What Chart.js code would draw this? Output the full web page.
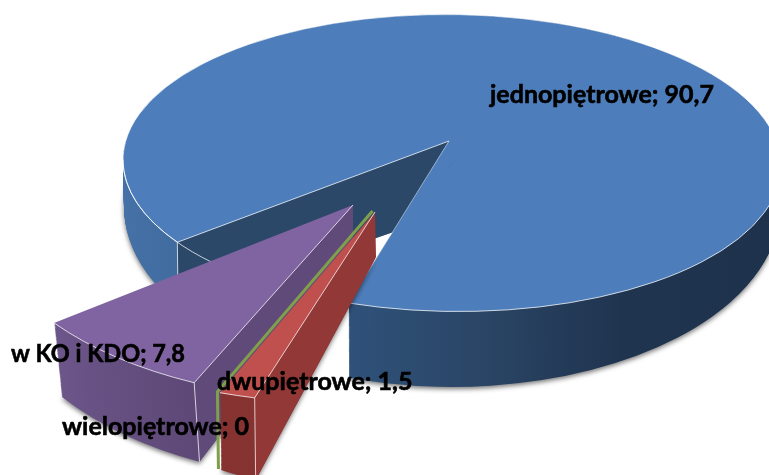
<!DOCTYPE html>
<html lang="pl">
<head>
<meta charset="utf-8">
<title>Wykres</title>
<script src="https://cdn.jsdelivr.net/npm/chart.js@4/dist/chart.umd.min.js"></script>
<style>
    html, body { margin: 0; padding: 0; background: #fff; overflow: hidden; }
    canvas { display: block; }
</style>
</head>
<body>
<canvas id="pieChart" width="769" height="475"></canvas>
<script>
const categories = ["jednopiętrowe", "dwupiętrowe", "wielopiętrowe", "w KO i KDO"];
const values = [90.7, 1.5, 0, 7.8];

const colors = ["#4d7ebb", "#c0504d", "#7f9f4a", "#8064a2"];
const labelSpots = [[490, 103], [217, 390], [62, 435], [11, 362]];
const labelWidths = [224, 196, 188, 174];
const labelFont = "bold 25px Lato";

// perspective of the 3D pie: each slice gets its own top and bottom frame
const frames = {
    0: {
        top: { x: 452, y: 163, xx: 329, xy: 0, yx: 3, yy: 148.5 },
        bottom: { x: 452, y: 207, xx: 328, xy: 0, yx: 0, yy: 180 },
        apexTop: [449, 141],
        apexBottom: [449, 213],
        steps: 76,
        gapWiden: 2.4,
        wallStops: [[0, "#4571a6"], [0.09, "#3f6b9f"], [0.35, "#2f5179"], [0.55, "#2a4565"], [0.76, "#1f344f"], [1, "#1e324c"]],
        faceColor: "#2b4869",
    },
    1: {
        top: { x: 375, y: 212, xx: 393, xy: 20, yx: -23, yy: 190 },
        bottom: { x: 376, y: 257, xx: 393, xy: 20, yx: 12, yy: 243 },
        steps: 60,
        wallStops: [[0, "#83312f"], [1, "#8b3735"]],
        faceColor: "#923836",
    },
    2: {
        top: { x: 372.5, y: 211, xx: 393, xy: 20, yx: -23, yy: 190 },
        bottom: { x: 373.5, y: 256, xx: 393, xy: 20, yx: 12, yy: 243 },
    },
    3: {
        top: { x: 353, y: 205, xx: 373, xy: 6, yx: -4, yy: 196 },
        bottom: { x: 353, y: 262, xx: 365, xy: 8, yx: -9, yy: 218 },
        steps: 70,
        wallStops: [[0, "#705992"], [0.1, "#6b5589"], [0.3, "#5c4674"], [1, "#5c4674"]],
        faceColor: "#5f4a7a",
    },
};

const EDGE = "rgba(255,255,255,0.75)";

function lerpFrame(a, b, t) {
    const out = {};
    Object.keys(a).forEach(function (key) {
        out[key] = a[key] + (b[key] - a[key]) * t;
    });
    return out;
}

function applyFrame(ctx, f, arc) {
    const r = arc.outerRadius;
    const a = f.xx / r, b = f.yx / r, c = f.xy / r, d = f.yy / r;
    ctx.transform(a, b, c, d, f.x - a * arc.x - c * arc.y, f.y - b * arc.x - d * arc.y);
}

function rimPoint(f, angle) {
    const ux = Math.cos(angle), uy = Math.sin(angle);
    return [f.x + f.xx * ux + f.xy * uy, f.y + f.yx * ux + f.yy * uy];
}

// screen point back into the arc's own pixel space
function toLocal(f, arc, pt) {
    const det = f.xx * f.yy - f.xy * f.yx;
    const dx = pt[0] - f.x, dy = pt[1] - f.y;
    const ux = (f.yy * dx - f.xy * dy) / det;
    const uy = (f.xx * dy - f.yx * dx) / det;
    return [arc.x + ux * arc.outerRadius, arc.y + uy * arc.outerRadius];
}

function clipGap(ctx, f, arc, apex, startA, endA) {
    const r = arc.outerRadius;
    const p = toLocal(f, arc, apex);
    const far = function (a, k) {
        const ex = arc.x + Math.cos(a) * r, ey = arc.y + Math.sin(a) * r;
        return [p[0] + (ex - p[0]) * k, p[1] + (ey - p[1]) * k];
    };
    const p1 = far(startA, 2.5), p2 = far(endA, 2.5);
    ctx.beginPath();
    ctx.rect(arc.x - r * 4, arc.y - r * 4, r * 8, r * 8);
    ctx.moveTo(p[0], p[1]);
    ctx.lineTo(p1[0], p1[1]);
    ctx.lineTo(p2[0], p2[1]);
    ctx.closePath();
    ctx.clip("evenodd");
}

function drawFilled(ctx, arc, fill) {
    const saved = arc.options;
    arc.options = Object.assign({}, saved, { backgroundColor: fill, borderWidth: 0 });
    arc.draw(ctx);
    arc.options = saved;
}

function polygon(ctx, pts, fill) {
    ctx.beginPath();
    pts.forEach(function (pt, i) {
        if (i === 0) ctx.moveTo(pt[0], pt[1]);
        else ctx.lineTo(pt[0], pt[1]);
    });
    ctx.closePath();
    ctx.fillStyle = fill;
    ctx.fill();
}

function line(ctx, a, b, color) {
    ctx.beginPath();
    ctx.moveTo(a[0], a[1]);
    ctx.lineTo(b[0], b[1]);
    ctx.strokeStyle = color || EDGE;
    ctx.lineWidth = 1;
    ctx.stroke();
}

function rimLine(ctx, f, arc, a1, a2, ccw) {
    ctx.save();
    ctx.save();
    applyFrame(ctx, f, arc);
    ctx.beginPath();
    ctx.arc(arc.x, arc.y, arc.outerRadius, a1, a2, ccw);
    ctx.restore();
    ctx.strokeStyle = EDGE;
    ctx.lineWidth = 1;
    ctx.stroke();
    ctx.restore();
}

function extrude(ctx, arc, cfg, clipper) {
    const r = arc.outerRadius;
    const grad = ctx.createLinearGradient(arc.x - r, 0, arc.x + r, 0);
    cfg.wallStops.forEach(function (s) {
        grad.addColorStop(s[0], s[1]);
    });
    for (let i = 0; i < cfg.steps; i++) {
        const t = i / cfg.steps;
        const f = lerpFrame(cfg.bottom, cfg.top, t);
        ctx.save();
        if (i === 0) {
            ctx.shadowColor = "rgba(0,0,0,0.55)";
            ctx.shadowBlur = 5;
            ctx.shadowOffsetY = 2;
        }
        applyFrame(ctx, f, arc);
        if (clipper) clipper(f, t);
        drawFilled(ctx, arc, grad);
        ctx.restore();
    }
}

function drawMain(ctx, arc, idx) {
    const cfg = frames[idx];
    const widen = (cfg.gapWiden * Math.PI) / 180;
    const gapStart = arc.startAngle + widen;
    const gapEnd = arc.endAngle - widen;
    const clipper = function (f, t) {
        const apex = [
            cfg.apexBottom[0] + (cfg.apexTop[0] - cfg.apexBottom[0]) * t,
            cfg.apexBottom[1] + (cfg.apexTop[1] - cfg.apexBottom[1]) * t,
        ];
        clipGap(ctx, f, arc, apex, gapStart, gapEnd);
    };
    extrude(ctx, arc, cfg, clipper);

    const rimTop = rimPoint(cfg.top, gapStart);
    const rimBottom = rimPoint(cfg.bottom, gapStart);
    const rimEnd = rimPoint(cfg.top, gapEnd);
    polygon(ctx, [cfg.apexTop, rimTop, rimBottom, cfg.apexBottom], cfg.faceColor);

    ctx.save();
    applyFrame(ctx, cfg.top, arc);
    clipper(cfg.top, 1);
    drawFilled(ctx, arc, colors[idx]);
    ctx.restore();
    // the apex sits behind the ellipse centre, close the sliver this leaves
    polygon(ctx, [cfg.apexTop, [cfg.top.x, cfg.top.y], rimEnd], colors[idx]);

    line(ctx, cfg.apexTop, rimTop);
    line(ctx, cfg.apexTop, rimEnd, "rgba(255,255,255,0.45)");
    line(ctx, rimTop, rimBottom);
    rimLine(ctx, cfg.top, arc, gapStart, Math.PI, false);
    rimLine(ctx, cfg.top, arc, gapEnd, 0.02, true);
}

function drawWedge(ctx, arc, idx, faceAngle) {
    const cfg = frames[idx];
    extrude(ctx, arc, cfg, null);

    const top = cfg.top, bottom = cfg.bottom;
    const rimTop = rimPoint(top, faceAngle);
    const rimBottom = rimPoint(bottom, faceAngle);
    polygon(ctx, [[top.x, top.y], rimTop, rimBottom, [bottom.x, bottom.y]], cfg.faceColor);

    ctx.save();
    applyFrame(ctx, top, arc);
    drawFilled(ctx, arc, colors[idx]);
    ctx.restore();

    line(ctx, [top.x, top.y], rimTop);
    line(ctx, rimTop, rimBottom);
    rimLine(ctx, top, arc, arc.startAngle, arc.endAngle, false);
}

// a zero value has no arc to paint, only its edge shows
function drawZero(ctx, arc, idx) {
    const cfg = frames[idx];
    const rimTop = rimPoint(cfg.top, arc.startAngle);
    const rimBottom = rimPoint(cfg.bottom, arc.startAngle);
    ctx.save();
    ctx.strokeStyle = colors[idx];
    ctx.lineWidth = 3;
    ctx.beginPath();
    ctx.moveTo(cfg.top.x, cfg.top.y);
    ctx.lineTo(rimTop[0], rimTop[1]);
    ctx.lineTo(rimBottom[0], rimBottom[1]);
    ctx.stroke();
    ctx.restore();
}

function labelText(i) {
    return categories[i] + "; " + String(values[i]).replace(".", ",");
}

const pie3d = {
    id: "pie3d",
    beforeDatasetsDraw: function (chart) {
        const ctx = chart.ctx;
        const arcs = chart.getDatasetMeta(0).data;

        drawMain(ctx, arcs[0], 0);
        drawWedge(ctx, arcs[3], 3, arcs[3].startAngle);
        drawZero(ctx, arcs[2], 2);
        drawWedge(ctx, arcs[1], 1, arcs[1].startAngle);

        ctx.save();
        ctx.font = labelFont;
        ctx.fillStyle = "#000";
        ctx.strokeStyle = "#000";
        ctx.lineWidth = 0.6;
        ctx.textBaseline = "alphabetic";
        categories.forEach(function (name, i) {
            const spot = labelSpots[i];
            ctx.fillText(labelText(i), spot[0], spot[1], labelWidths[i]);
            ctx.strokeText(labelText(i), spot[0], spot[1], labelWidths[i]);
        });
        ctx.restore();
        return false;
    },
};

new Chart(document.getElementById("pieChart"), {
    type: "pie",
    data: {
        labels: categories,
        datasets: [
            {
                data: values,
                backgroundColor: colors,
                borderWidth: 0,
            },
        ],
    },
    options: {
        responsive: false,
        animation: false,
        rotation: 234.2,
        plugins: {
            legend: { display: false },
            tooltip: { enabled: false },
        },
    },
    plugins: [pie3d],
});
</script>
</body>
</html>
